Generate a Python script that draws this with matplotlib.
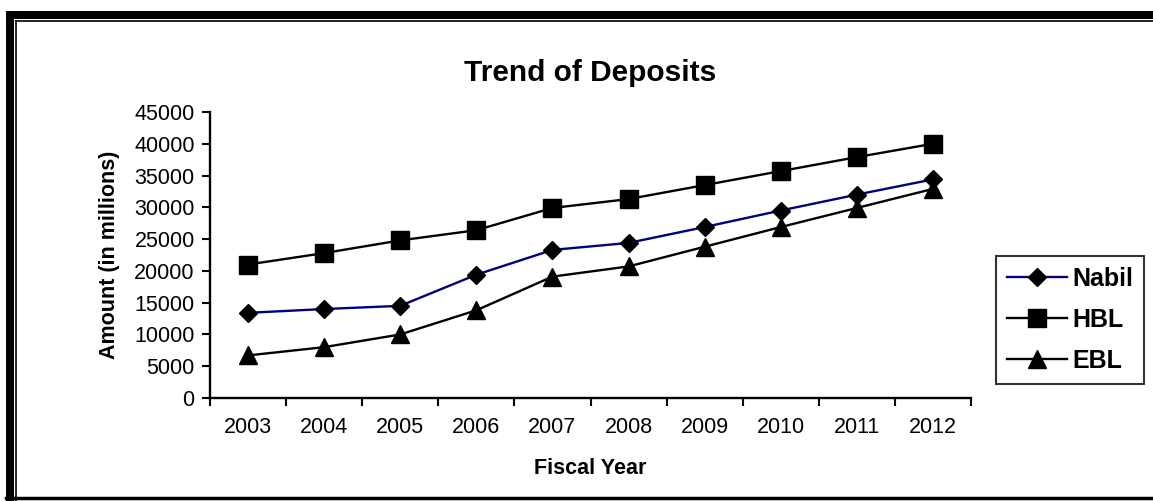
import matplotlib
matplotlib.use("Agg")
import matplotlib.pyplot as plt
from matplotlib.lines import Line2D
from matplotlib.patches import Rectangle

plt.rcParams['font.family'] = ['Liberation Sans', 'DejaVu Sans']

years = ['2003', '2004', '2005', '2006', '2007', '2008', '2009', '2010', '2011', '2012']
nabil = [13400, 14000, 14500, 19400, 23300, 24400, 26900, 29500, 32000, 34400]
hbl = [21000, 22800, 24800, 26400, 29900, 31300, 33500, 35700, 37900, 40000]
ebl = [6700, 8000, 10000, 13800, 19100, 20700, 23800, 26900, 29900, 32900]
yticks = [0, 5000, 10000, 15000, 20000, 25000, 30000, 35000, 40000, 45000]

W, H = 1153, 501
fig = plt.figure(figsize=(W / 100, H / 100), dpi=100)
ax = fig.add_axes([210 / W, 1 - 398 / H, (971 - 210) / W, (398 - 112) / H])

x = list(range(len(years)))
ax.plot(x, nabil, color='#000080', lw=1.7, marker='D', ms=9.5,
        mfc='black', mec='black', label='Nabil')
ax.plot(x, hbl, color='black', lw=1.7, marker='s', ms=13,
        mfc='black', mec='black', label='HBL')
ax.plot(x, ebl, color='black', lw=1.7, marker='^', ms=13,
        mfc='black', mec='black', label='EBL')

ax.set_xlim(-0.5, len(years) - 0.5)
ax.set_ylim(0, 45000)
ax.set_yticks(yticks)
ax.set_yticklabels([str(v) for v in yticks])
ax.set_xticks([i - 0.5 for i in range(len(years) + 1)])
ax.set_xticklabels([])
ax.set_xticks(x, minor=True)
ax.set_xticklabels(years, minor=True)
ax.tick_params(axis='both', which='major', direction='out', length=6, width=1.5,
               labelsize=15.5, color='black')
ax.tick_params(axis='x', which='minor', length=0, labelsize=15.5, pad=14)
ax.tick_params(axis='y', pad=5)
for s in ['top', 'right']:
    ax.spines[s].set_visible(False)
for s in ['left', 'bottom']:
    ax.spines[s].set_linewidth(1.7)

ax.set_title('Trend of Deposits', fontsize=21.5, fontweight='bold', pad=22)
ax.set_xlabel('Fiscal Year', fontsize=15.5, fontweight='bold', labelpad=14)
ax.set_ylabel('Amount (in millions)', fontsize=15.5, fontweight='bold', labelpad=10)

leg = ax.legend(loc='upper left', bbox_to_anchor=(996 / W, 1 - 256 / H),
                bbox_transform=fig.transFigure, frameon=True, fancybox=False,
                prop={'weight': 'bold', 'size': 18}, handlelength=2.4, handletextpad=0.25,
                borderpad=0.42, labelspacing=0.69, borderaxespad=0)
leg.get_frame().set_edgecolor('black')
leg.get_frame().set_linewidth(1.5)

# page frame: thick left/top, thin inner line, thin bottom
fig.add_artist(Rectangle((6 / W, 0), 8 / W, 1 - 11 / H, transform=fig.transFigure,
                         color='black', lw=0))
fig.add_artist(Rectangle((6 / W, 1 - 19 / H), 1, 8 / H, transform=fig.transFigure,
                         color='black', lw=0))
fig.add_artist(Line2D([16.2 / W, 16.2 / W], [0, 1 - 20.5 / H], transform=fig.transFigure,
                      color='black', lw=1.2))
fig.add_artist(Line2D([16.2 / W, 1], [1 - 20.5 / H, 1 - 20.5 / H], transform=fig.transFigure,
                      color='black', lw=1.2))
fig.add_artist(Line2D([6 / W, 1], [1 - 498 / H, 1 - 498 / H], transform=fig.transFigure,
                      color='black', lw=2.5))

fig.savefig('out.png', dpi=100)
